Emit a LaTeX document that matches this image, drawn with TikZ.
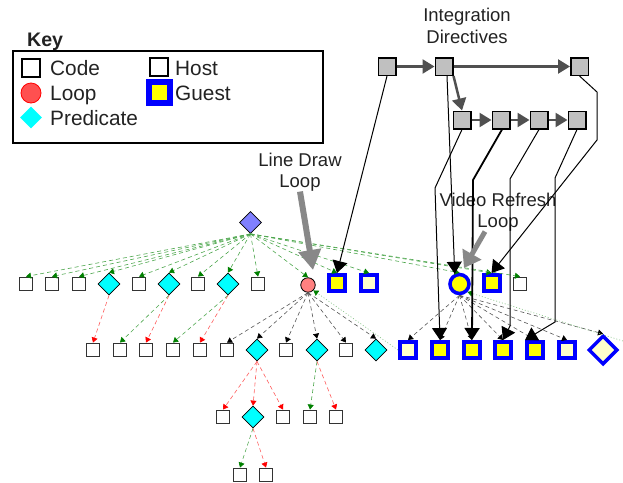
\documentclass[tikz,border=0pt]{standalone}
\usepackage{fontspec}
\setmainfont{Liberation Sans}
\usetikzlibrary{shapes.geometric,arrows.meta}
\definecolor{aqua}{RGB}{0,255,255}
\definecolor{yell}{RGB}{255,255,0}
\definecolor{pureblue}{RGB}{0,0,255}
\definecolor{lyellow}{HTML}{FFFFCC}
\definecolor{boxgray}{HTML}{C0C0C0}
\definecolor{arrgray}{HTML}{505050}
\definecolor{lblgray}{HTML}{888888}
\definecolor{loopred}{HTML}{FF8080}
\definecolor{keyred}{HTML}{FF5050}
\definecolor{rootblue}{HTML}{8080FF}
\definecolor{edgegreen}{HTML}{008000}
\definecolor{linegreen}{HTML}{4CA64C}
\definecolor{edgered}{HTML}{FF0000}
\definecolor{linered}{HTML}{FF5A5A}
\definecolor{linegray}{HTML}{555555}
\definecolor{txt}{HTML}{222222}
\newcommand\kfont{\fontsize{20.8}{24}\selectfont}
\newcommand\lfont{\fontsize{18.5}{21.5}\selectfont}
\begin{document}
\begin{tikzpicture}[x=1pt,y=-1pt,
  code/.style={rectangle, draw=black!80, fill=white, line width=1.4pt, minimum size=13.5pt, inner sep=0pt},
  pred/.style={diamond, draw=black, fill=aqua, line width=0.8pt, minimum size=22pt, inner sep=0pt},
  guest/.style={rectangle, draw=pureblue, line width=4pt, fill=yell, minimum size=16pt, inner sep=0pt},
  lguest/.style={guest, fill=lyellow},
  ibox/.style={rectangle, draw=black, line width=1.5pt, fill=boxgray, minimum size=17.5pt, inner sep=0pt},
  garr/.style={draw=arrgray, line width=2.5pt, -{Triangle[length=12pt,width=14pt]}},
  blk/.style={draw=black, line width=1pt, -{Triangle[length=12pt,width=15pt]}},
  gdash/.style={draw=linegreen, line width=0.6pt, dash pattern=on 4pt off 3pt, -{Triangle[length=5pt,width=6pt,color=edgegreen]}},
  rdash/.style={draw=linered, line width=0.6pt, dash pattern=on 4pt off 3pt, -{Triangle[length=5pt,width=6pt,color=edgered]}},
  kdash/.style={draw=linegray, line width=0.6pt, dash pattern=on 4pt off 3pt, -{Triangle[length=5pt,width=6pt,color=black]}},
  gback/.style={draw=linegreen!70, line width=0.6pt, dash pattern=on 1pt off 2pt, -{Triangle[length=5pt,width=6pt,color=edgegreen]}},
  lblarr/.style={draw=lblgray, line width=6pt, -{Triangle[length=20pt,width=22pt]}},
  lbl/.style={font=\lfont, text=txt, align=center, inner sep=0pt},
  ktext/.style={font=\kfont, text=txt, anchor=base west, inner sep=0pt}
]
\useasboundingbox (0,0) rectangle (623,482);

% ---------- Key ----------
\node[anchor=base west, inner sep=0pt, font=\bfseries\fontsize{19.6}{22}\selectfont, text=txt] (keyt) at (27,46.5) {Key};
\node[draw=black, line width=2pt, minimum width=310pt, minimum height=92pt, inner sep=0pt] (keybox) at (168,97) {};
\node[code, draw=black, minimum size=18pt, line width=2pt] (kcode) at (31,67.5) {};
\node[circle, draw=red, fill=keyred, line width=0.8pt, minimum size=20pt, inner sep=0pt] (kloop) at (31,93) {};
\node[diamond, fill=aqua, minimum size=22pt, inner sep=0pt] (kpred) at (31,117.5) {};
\node[code, draw=black, minimum size=18pt, line width=2pt] (khost) at (158.5,67) {};
\node[guest, minimum size=21pt, line width=6pt] (kguest) at (159.5,92) {};
\node[ktext] (tcode) at (50,75) {Code};
\node[ktext] (tloop) at (50,100) {Loop};
\node[ktext] (tpred) at (50,125) {Predicate};
\node[ktext] (thost) at (175,75) {Host};
\node[ktext] (tguest) at (175,100) {Guest};

% ---------- Labels ----------
\node[lbl] (intl) at (467,26) {Integration\\Directives};
\node[lbl] (ldl) at (300,172) {Line Draw\\Loop};
\node[lbl] (vrl) at (498,212) {Video Refresh\\Loop};

% ---------- Integration directive boxes ----------
\node[ibox] (a1) at (387,66.5) {};
\node[ibox] (a2) at (444,66.5) {};
\node[ibox] (a3) at (579.5,66.5) {};
\node[ibox] (b1) at (462,120) {};
\node[ibox] (b2) at (501,120) {};
\node[ibox] (b3) at (539,120) {};
\node[ibox] (b4) at (577,120) {};

% ---------- Root ----------
\node[pred, fill=rootblue] (root) at (250.5,222.5) {};

% ---------- Row 1 ----------
\node[code] (c1) at (26,284) {};
\node[code] (c2) at (52,284) {};
\node[code] (c3) at (79,284) {};
\node[pred] (p1) at (109,284) {};
\node[code] (c4) at (139,284) {};
\node[pred] (p2) at (169,284) {};
\node[code] (c5) at (198,284) {};
\node[pred] (p3) at (228,284) {};
\node[code] (c6) at (258,284) {};
\node[circle, draw=black, fill=loopred, line width=0.8pt, minimum size=14.5pt, inner sep=0pt] (loop) at (308,285) {};
\node[guest] (g1) at (337,283) {};
\node[lguest] (lg1) at (369,283) {};
\node[circle, draw=pureblue, fill=yell, line width=3.6pt, minimum size=19pt, inner sep=0pt] (vr) at (459.5,284) {};
\node[guest] (g2) at (491.5,283) {};
\node[code] (c7) at (520,284) {};

% ---------- Row 2 ----------
\node[code] (d1) at (93,350) {};
\node[code] (d2) at (120,350) {};
\node[code] (d3) at (146,350) {};
\node[code] (d4) at (173,350) {};
\node[code] (d5) at (200,350) {};
\node[code] (d6) at (227,350) {};
\node[pred] (p4) at (257,350) {};
\node[code] (d7) at (286,350) {};
\node[pred] (p5) at (317,350) {};
\node[code] (d8) at (346,350) {};
\node[pred] (p6) at (376,350) {};
\node[lguest] (G1) at (408,350) {};
\node[guest] (G2) at (440,350) {};
\node[guest] (G3) at (472,350) {};
\node[guest] (G4) at (503,350) {};
\node[guest] (G5) at (535,350) {};
\node[lguest] (G6) at (567,350) {};
\node[diamond, draw=pureblue, fill=lyellow, line width=3.5pt, minimum size=29pt, inner sep=0pt] (GD) at (603,350) {};

% ---------- Row 3 ----------
\node[code] (e1) at (223,417) {};
\node[pred] (p7) at (253,417) {};
\node[code] (e2) at (283,417) {};
\node[code] (e3) at (310,417) {};
\node[code] (e4) at (336,417) {};

% ---------- Row 4 ----------
\node[code] (f1) at (240,475) {};
\node[code] (f2) at (266,475) {};

\coordinate (vrend) at (623,341);

% ---------- Root edges ----------
\foreach \t in {c1,c2,c3,p1,c4,p2,c5,p3,c6,loop,g1,lg1,vr,g2,c7}
  \draw[gdash] (root.south) -- (\t.north);

% ---------- Predicate edges ----------
\draw[rdash] (p1.south) -- (d1.north);
\draw[gdash] (p2.south) -- (d2.north);
\draw[rdash] (p2.south) -- (d3.north);
\draw[gdash] (p3.south) -- (d4.north);
\draw[rdash] (p3.south) -- (d5.north);
\draw[rdash] (p4.south) -- (e1.north);
\draw[rdash] (p4.south) -- (p7.north);
\draw[rdash] (p4.south) -- (e2.north);
\draw[gdash] (p5.south) -- (e3.north);
\draw[rdash] (p5.south) -- (e4.north);
\draw[gdash] (p7.south) -- (f1.north);
\draw[rdash] (p7.south) -- (f2.north);

% ---------- Loop edges ----------
\foreach \t in {d6,p4,d7,p5,d8,p6}
  \draw[kdash] (loop.south) -- (\t.north);
\foreach \t in {G1,G2,G3,G4,G5,G6,GD}
  \draw[kdash] (vr.south) -- (\t.north);
\draw[gback] (G1.west) -- (loop.south east);
\draw[gback] (vrend) -- (vr.south east);

% ---------- Directive chains ----------
\draw[garr] (a1.east) -- (a2.west);
\draw[garr] (a2.east) -- (a3.west);
\draw[garr] (a2.south east) -- (b1.north);
\draw[garr] (b1.east) -- (b2.west);
\draw[garr] (b2.east) -- (b3.west);
\draw[garr] (b3.east) -- (b4.west);

% ---------- Directive targets ----------
\draw[blk] (a1.south) -- (g1.north);
\draw[blk] ([xshift=3pt]a2.south) -- (vr.115);
\draw[blk] (b1.south) -- (435,188) -- (G2.north);
\draw[blk, line width=1.8pt] ([xshift=1pt]b2.south) -- (473,180) -- (G3.north);
\draw[blk] (b3.south) -- (510,179) -- (510,326) -- (G4.north);
\draw[blk] (b4.south) -- (555,178) -- (555,322) -- (G5.north west);
\draw[blk] (a3.south) -- (597,92) -- (597,140) -- (g2.north);

% ---------- Label arrows ----------
\coordinate (ldtip) at (313,270);
\coordinate (vrtip) at (464,268);
\draw[lblarr] (ldl.south) -- (ldtip);
\draw[lblarr, line width=5pt, -{Triangle[length=16pt,width=21pt]}] ([xshift=-13pt]vrl.south) -- (vrtip);
\end{tikzpicture}
\end{document}
